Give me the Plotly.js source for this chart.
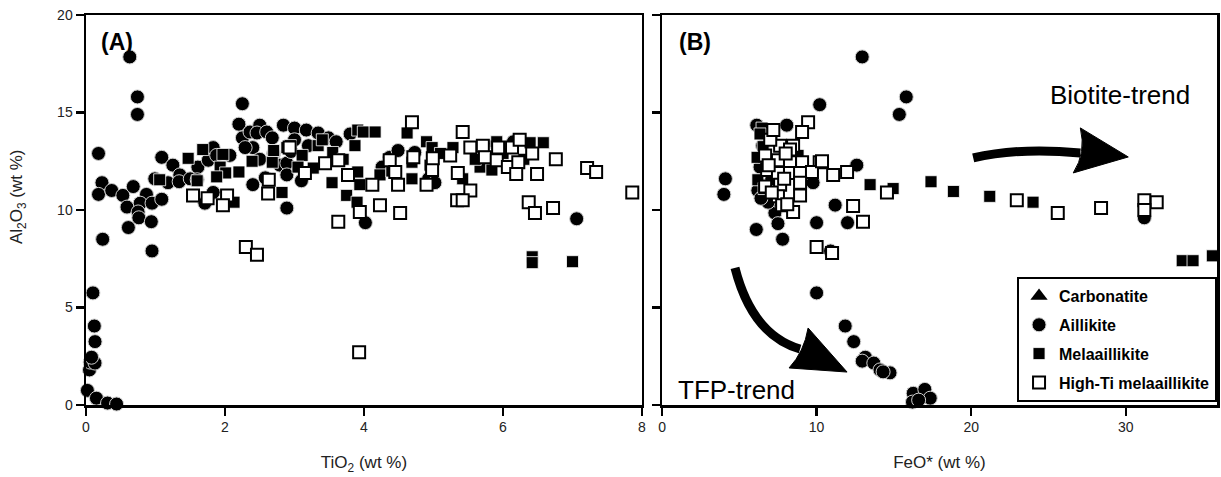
<!DOCTYPE html>
<html><head><meta charset="utf-8">
<script src="https://cdn.plot.ly/plotly-3.0.1.min.js"></script>
<style>html,body{margin:0;padding:0;background:#fff}#chart{width:1221px;height:477px}</style>
</head><body><div id="chart"></div>
<script>
// ---------- Legend / series names ----------
const seriesNames = ['Carbonatite', 'Aillikite', 'Melaaillikite', 'High-Ti melaaillikite'];

// ---------- Panel A: TiO2 vs Al2O3 ----------
const ailA_x = [0.02,0.15,0.31,0.44,0.05,0.06,0.13,0.08,0.13,0.12,0.10,0.24,0.95,0.63,0.74,0.74,0.18,0.23,0.18,0.37,0.53,0.68,0.87,0.59,0.78,0.75,0.95,1.09,0.76,0.61,0.94,1.09,1.25,0.99,1.18,1.35,1.34,1.50,1.61,1.60,1.76,1.83,1.88,2.07,1.83,1.71,2.25,2.20,2.25,2.36,2.40,2.29,2.50,2.46,2.60,2.68,2.84,2.40,2.58,2.89,2.79,3.00,3.17,3.34,3.49,3.80,2.89,2.89,4.02,4.37,4.49,4.73,4.93,5.02,4.26,5.90,6.15,7.06,3.00,3.20,2.70,2.95,3.60,3.10,2.50];
const ailA_y = [0.75,0.35,0.10,0.05,1.80,2.20,2.15,2.45,3.25,4.05,5.75,8.50,7.90,17.85,15.80,14.90,12.90,11.40,10.80,11.00,10.75,11.20,10.80,10.15,10.35,9.90,10.35,10.55,9.60,9.10,9.40,12.70,12.30,11.60,11.40,11.80,11.45,11.60,12.20,11.55,12.55,13.20,12.80,12.80,10.90,10.35,15.45,14.40,13.70,14.00,13.20,13.20,14.35,13.95,14.00,13.70,14.35,11.30,11.65,10.10,12.30,14.20,14.10,13.95,13.70,13.90,12.40,11.80,9.35,12.70,13.05,12.95,11.60,11.40,12.20,13.40,13.50,9.55,13.60,13.30,12.90,13.00,13.50,11.50,12.60];

const melA_x = [1.06,1.47,1.68,1.97,1.93,2.01,2.20,1.60,2.13,2.39,2.68,2.82,1.88,2.70,2.89,2.94,3.34,3.91,3.99,4.16,4.62,4.90,4.98,3.55,3.87,3.11,3.27,3.54,3.91,3.94,3.75,3.90,4.23,4.69,4.69,4.95,5.28,5.42,5.67,6.58,6.39,5.84,5.91,6.42,6.42,7.00,3.05,3.70,4.40,5.10,5.60,6.00,6.30,3.40];
const melA_y = [11.55,12.65,13.10,12.85,12.20,11.90,11.95,11.50,10.40,12.50,12.45,10.90,11.70,13.05,13.20,13.30,13.30,14.10,14.00,14.00,13.95,13.50,13.20,12.95,13.30,12.80,12.15,11.40,11.95,11.30,10.75,10.40,11.80,12.45,11.60,12.30,13.20,11.60,12.20,13.45,13.45,12.05,13.50,7.60,7.30,7.35,12.20,12.60,12.00,12.90,12.60,12.90,12.60,13.60];

const htiA_x = [1.54,1.75,2.03,1.97,2.63,2.62,2.30,2.46,2.93,3.93,4.69,3.15,3.44,3.63,3.77,4.12,4.37,4.49,4.71,4.98,4.90,5.24,5.42,5.53,5.71,5.35,5.53,5.34,5.42,4.23,4.52,3.94,3.63,4.45,4.99,5.93,6.13,6.24,6.42,5.74,5.91,6.07,6.22,6.19,6.49,6.76,7.21,7.34,7.86,6.37,6.46,6.72];
const htiA_y = [10.75,10.60,10.75,10.25,11.55,10.85,8.10,7.70,13.20,2.70,14.50,11.90,12.40,12.55,11.80,11.30,12.55,11.30,12.70,12.05,11.30,12.80,14.00,13.20,13.30,11.90,11.00,10.50,10.50,10.25,9.85,9.90,9.40,11.95,12.65,13.20,13.20,13.60,12.90,12.70,12.55,12.20,12.45,11.85,11.85,12.60,12.15,11.95,10.90,10.40,9.85,10.10];

// ---------- Panel B: FeO* vs Al2O3 ----------
const ailB_x = [12.95,15.80,15.35,10.20,6.13,8.07,4.10,4.00,12.60,11.20,10.00,12.00,6.10,7.80,10.90,10.00,11.85,12.40,13.15,12.95,13.70,14.10,14.75,14.30,16.25,16.20,17.00,17.35,16.60,31.20,6.86,6.34,9.77,7.30,7.43,6.86,6.20,6.50,7.00,7.50,7.10,6.40];
const ailB_y = [17.85,15.80,14.90,15.40,14.35,14.35,11.60,10.80,12.30,10.25,9.35,9.35,9.00,8.50,7.90,5.75,4.05,3.25,2.45,2.25,2.15,1.80,1.65,1.70,0.60,0.15,0.80,0.35,0.25,9.60,14.00,12.20,11.40,9.85,10.50,10.40,11.00,13.30,12.50,9.30,11.60,10.60];

const melB_x = [7.10,6.47,6.54,6.15,6.20,8.80,13.46,14.95,17.40,18.85,21.20,24.00,33.65,34.35,35.60,6.34,7.30,6.60];
const melB_y = [13.90,14.20,13.25,12.70,11.55,12.80,11.30,11.10,11.45,10.95,10.70,10.40,7.40,7.40,7.65,13.90,12.20,11.10];

const htiB_x = [9.45,9.06,7.64,8.48,6.67,7.50,8.28,9.06,10.20,6.80,7.50,8.28,8.93,9.70,11.07,11.97,7.64,8.93,6.67,7.50,8.93,7.77,8.48,12.36,13.00,10.00,11.00,8.28,14.55,22.95,25.60,28.40,31.20,32.00,31.20,7.00,7.20,6.90,8.00,7.90,7.10,8.10,10.35];
const htiB_y = [14.50,14.00,13.30,13.30,12.80,12.55,12.45,12.45,12.45,12.05,11.90,11.90,11.90,11.95,11.80,11.95,11.30,11.40,11.20,10.70,10.75,10.25,9.90,10.20,9.40,8.10,7.80,13.10,10.90,10.50,9.85,10.10,10.50,10.40,10.00,13.60,14.10,12.30,12.90,11.60,10.90,10.30,12.50];

// ---------- Axis ticks ----------
const xTicksA = [0, 2, 4, 6, 8];
const xTicksB = [0, 10, 20, 30];
const yTicks = [0, 5, 10, 15, 20];

const FONT = 'Liberation Sans, Arial, Helvetica, sans-serif';

const circleM = {symbol: 'circle', size: 14, color: '#000', line: {color: '#d0d0d0', width: 1}};
const filledM = {symbol: 'square', size: 12, color: '#000', line: {color: '#ffffff', width: 0.8}};
const openM = {symbol: 'square', size: 12, color: '#fff', line: {color: '#000', width: 2}};
const triM = {symbol: 'triangle-up', size: 15, color: '#000', line: {width: 0}};

function tr(x, y, name, marker, xa, ya, show, grp) {
  return {type: 'scatter', mode: 'markers', x: x, y: y, name: '<b>' + name + '</b>',
    marker: marker, xaxis: xa, yaxis: ya, showlegend: show, legendgroup: grp,
    cliponaxis: false, hoverinfo: 'x+y'};
}

const data = [
  tr([null], [null], seriesNames[0], triM, 'x', 'y', true, 'g0'),
  tr(ailA_x, ailA_y, seriesNames[1], circleM, 'x', 'y', true, 'g1'),
  tr(melA_x, melA_y, seriesNames[2], filledM, 'x', 'y', true, 'g2'),
  tr(htiA_x, htiA_y, seriesNames[3], openM, 'x', 'y', true, 'g3'),
  tr(ailB_x, ailB_y, seriesNames[1], circleM, 'x2', 'y2', false, 'g1'),
  tr(melB_x, melB_y, seriesNames[2], filledM, 'x2', 'y2', false, 'g2'),
  tr(htiB_x, htiB_y, seriesNames[3], openM, 'x2', 'y2', false, 'g3')
];

const axBase = {
  showline: true, mirror: true, linecolor: '#000', linewidth: 2.5,
  ticks: 'outside', ticklen: 8, tickwidth: 2.5, tickcolor: '#000',
  showgrid: false, zeroline: false, fixedrange: true,
  tickfont: {family: FONT, size: 14, color: '#222'}
};

function ann(px, py, text, size, extra) {
  return Object.assign({xref: 'paper', yref: 'paper', x: (px - 86) / 1131, y: (405 - py) / 390,
    xanchor: 'center', yanchor: 'middle', text: text, showarrow: false,
    font: {family: FONT, size: size, color: '#000'}}, extra || {});
}

const layout = {
  width: 1221, height: 477,
  margin: {l: 86, r: 4, t: 15, b: 72},
  paper_bgcolor: '#fff', plot_bgcolor: '#fff',
  font: {family: FONT, color: '#000'},
  xaxis: Object.assign({}, axBase, {domain: [0, 0.4916], range: [0, 8], tickvals: xTicksA,
    title: {text: 'TiO<sub>2</sub> (wt %)', font: {family: FONT, size: 17, color: '#222'}, standoff: 22}, anchor: 'y'}),
  yaxis: Object.assign({}, axBase, {domain: [0, 1], range: [0, 20], tickvals: yTicks, anchor: 'x'}),
  xaxis2: Object.assign({}, axBase, {domain: [0.5093, 1], range: [0, 35.9], tickvals: xTicksB,
    title: {text: 'FeO* (wt %)', font: {family: FONT, size: 17, color: '#222'}, standoff: 22}, anchor: 'y2'}),
  yaxis2: Object.assign({}, axBase, {domain: [0, 1], range: [0, 20], tickvals: yTicks, showticklabels: false, anchor: 'x2'}),
  showlegend: true,
  legend: {x: 0.8232, y: 0.328, xanchor: 'left', yanchor: 'top', bgcolor: '#fff',
    bordercolor: '#000', borderwidth: 2, traceorder: 'grouped', tracegroupgap: 5,
    font: {family: FONT, size: 16, color: '#000'}},
  annotations: [
    ann(18, 197, 'Al<sub>2</sub>O<sub>3</sub> (wt %)', 17, {textangle: -90, font: {family: FONT, size: 17, color: '#222'}}),
    ann(117, 42, '<b>(A)</b>', 23),
    ann(695, 42, '<b>(B)</b>', 23),
    ann(1120, 95, 'Biotite-trend', 26),
    ann(736, 390, 'TFP-trend', 26)
  ],
  shapes: [
    {type: 'path', xref: 'x2', yref: 'y2', path: 'M 20.13,12.67 Q 23.17,13.23 27.06,12.92',
      line: {color: '#000', width: 9}, fillcolor: 'rgba(0,0,0,0)'},
    {type: 'path', xref: 'x2', yref: 'y2', path: 'M 27.06,14.21 L 30.16,12.72 L 26.60,11.90 Q 27.45,12.95 27.06,14.21 Z',
      line: {color: '#000', width: 1}, fillcolor: '#000'},
    {type: 'path', xref: 'x2', yref: 'y2', path: 'M 4.72,7.03 Q 5.83,3.59 8.93,2.87',
      line: {color: '#000', width: 9}, fillcolor: 'rgba(0,0,0,0)'},
    {type: 'path', xref: 'x2', yref: 'y2', path: 'M 9.45,3.95 L 11.97,1.69 L 8.22,1.90 Q 9.19,2.72 9.45,3.95 Z',
      line: {color: '#000', width: 1}, fillcolor: '#000'}
  ]
};

Plotly.newPlot('chart', data, layout, {displayModeBar: false, staticPlot: true});
</script>
</body></html>
